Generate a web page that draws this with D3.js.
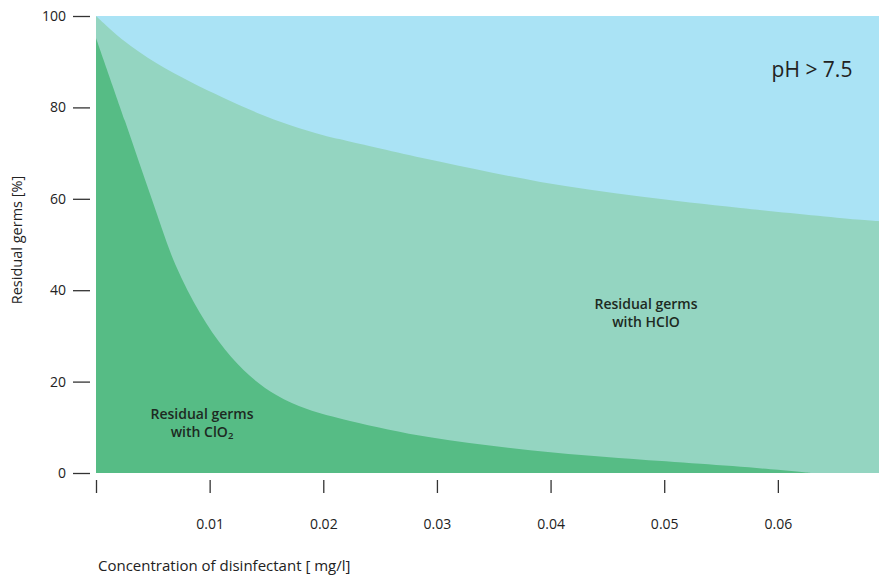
<!DOCTYPE html>
<html>
<head>
<meta charset="utf-8">
<script src="https://cdn.jsdelivr.net/npm/d3@7"></script>
<style>
  html, body { margin: 0; padding: 0; background: #fff; }
  svg { display: block; font-family: "Open Sans", "Noto Sans", sans-serif; }
</style>
</head>
<body>
<svg id="chart" width="879" height="577"></svg>
<script>
// ---- Data ----
const xTicks = [0, 0.01, 0.02, 0.03, 0.04, 0.05, 0.06];
const xTickLabels = ["", "0.01", "0.02", "0.03", "0.04", "0.05", "0.06"];
const yTicks = [0, 20, 40, 60, 80, 100];

const hcloConc = [0, 0.0024, 0.0053, 0.0083, 0.0112, 0.0142, 0.0171, 0.0200, 0.0224, 0.0303, 0.0391, 0.0479, 0.0567, 0.0673, 0.0689];
const hcloGerms = [100, 94.7, 89.7, 85.6, 82.1, 78.8, 76.1, 73.9, 72.5, 68.1, 63.7, 60.5, 58.0, 55.4, 55.1];

const clo2Conc = [0, 0.00255, 0.0049, 0.0070, 0.00915, 0.01135, 0.01356, 0.0159, 0.01857, 0.02236, 0.0294, 0.0382, 0.0470, 0.0532, 0.0600, 0.0629];
const clo2Germs = [95.2, 77.0, 60.0, 45.5, 35.0, 27.0, 21.2, 17.0, 14.0, 11.4, 7.8, 5.0, 3.1, 2.0, 0.7, 0];

const xDomain = [0, 0.0689];
const yDomain = [0, 100];

// ---- Layout ----
const svg = d3.select("#chart");
const mLeft = 96, mRight = 879, mTop = 16, mBottom = 473;

const x = d3.scaleLinear().domain(xDomain).range([mLeft, mRight]);
const y = d3.scaleLinear().domain(yDomain).range([mBottom, mTop]);

const colors = { bg: "#aae3f5", hclo: "#94d5c1", clo2: "#56bc85" };

// background (100 %)
svg.append("rect")
  .attr("x", x(xDomain[0])).attr("y", y(100))
  .attr("width", x(xDomain[1]) - x(xDomain[0]))
  .attr("height", y(0) - y(100))
  .attr("fill", colors.bg);

const area = d3.area()
  .x(d => x(d[0]))
  .y0(y(0))
  .y1(d => Math.min(y(0), y(d[1])))
  .curve(d3.curveCatmullRom.alpha(0.5));

svg.append("path")
  .datum(hcloConc.map((c, i) => [c, hcloGerms[i]]))
  .attr("d", area)
  .attr("fill", colors.hclo);

svg.append("path")
  .datum(clo2Conc.map((c, i) => [c, clo2Germs[i]]))
  .attr("d", area)
  .attr("fill", colors.clo2);

// ---- Y axis ----
const yAxis = d3.axisLeft(y).tickValues(yTicks).tickSize(17).tickPadding(7);
const gy = svg.append("g").attr("transform", `translate(${mLeft - 6},0)`).call(yAxis);
gy.select(".domain").remove();
gy.selectAll(".tick line").attr("stroke", "#333").attr("stroke-width", 1.3);
gy.selectAll(".tick text").attr("fill", "#222").attr("font-size", 14).attr("font-family", "Open Sans, sans-serif");

// ---- X axis ----
const xAxis = d3.axisBottom(x).tickValues(xTicks).tickFormat((d, i) => xTickLabels[i]).tickSize(13).tickPadding(26);
const gx = svg.append("g").attr("transform", `translate(0,${mBottom + 7})`).call(xAxis);
gx.select(".domain").remove();
gx.selectAll(".tick line").attr("stroke", "#333").attr("stroke-width", 1.3);
gx.selectAll(".tick text").attr("fill", "#222").attr("font-size", 14).attr("font-family", "Open Sans, sans-serif");

// ---- Axis titles ----
svg.append("text")
  .attr("x", 98).attr("y", 571)
  .attr("font-size", 15).attr("fill", "#222")
  .text("Concentration of disinfectant [ mg/l]");

svg.append("text")
  .attr("transform", "translate(22,240) rotate(-90)")
  .attr("text-anchor", "middle")
  .attr("font-size", 14.5).attr("fill", "#222")
  .text("Residual germs [%]");

// ---- Annotations ----
svg.append("text")
  .attr("x", 812).attr("y", 77)
  .attr("text-anchor", "middle")
  .attr("font-size", 21).attr("fill", "#222")
  .text("pH > 7.5");

const t1 = svg.append("text").attr("text-anchor", "middle").attr("font-size", 14).attr("font-weight", 600).attr("fill", "#1d2a22");
t1.append("tspan").attr("x", 202).attr("y", 419).text("Residual germs");
const l2 = t1.append("tspan").attr("x", 202).attr("y", 437).text("with ClO");
l2.append("tspan").attr("font-size", 9.5).attr("dy", 2).text("2");

const t2 = svg.append("text").attr("text-anchor", "middle").attr("font-size", 14).attr("font-weight", 600).attr("fill", "#1d2a22");
t2.append("tspan").attr("x", 646).attr("y", 309).text("Residual germs");
t2.append("tspan").attr("x", 646).attr("y", 327).text("with HClO");
</script>
</body>
</html>
